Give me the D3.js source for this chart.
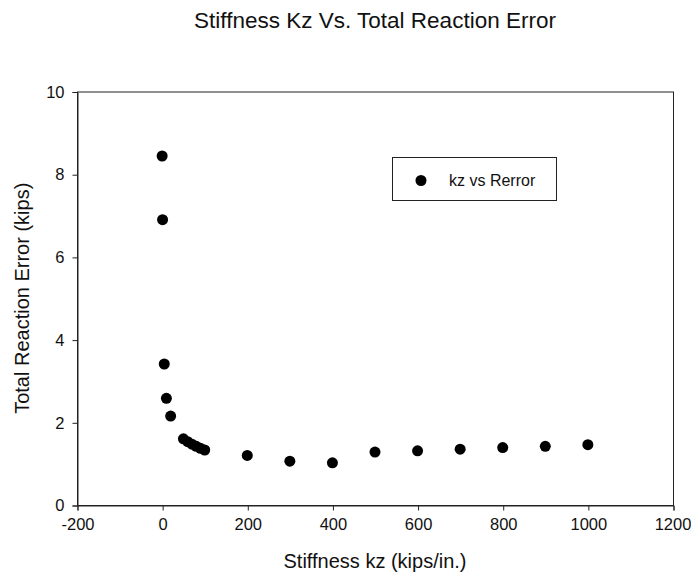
<!DOCTYPE html>
<html>
<head>
<meta charset="utf-8">
<script src="https://cdn.jsdelivr.net/npm/d3@7"></script>
<style>
  html, body { margin: 0; padding: 0; background: #fff; }
  svg { display: block; font-family: "Liberation Sans", Arial, sans-serif; }
</style>
</head>
<body>
<svg id="chart" width="691" height="580"></svg>
<script>
const kz = [0, 1, 5, 10, 20, 50, 60, 70, 80, 90, 100, 200, 300, 400, 500, 600, 700, 800, 900, 1000];
const rerror = [8.44, 6.90, 3.41, 2.58, 2.15, 1.60, 1.53, 1.47, 1.42, 1.37, 1.33, 1.20, 1.06, 1.02, 1.28, 1.31, 1.35, 1.39, 1.42, 1.46];
const xTicks = [-200, 0, 200, 400, 600, 800, 1000, 1200];
const yTicks = [0, 2, 4, 6, 8, 10];
const titleText = "Stiffness Kz Vs. Total Reaction Error";
const xTitle = "Stiffness kz (kips/in.)";
const yTitle = "Total Reaction Error (kips)";
const legendLabel = "kz vs Rerror";

const W = 691, H = 580;
const m = {left: 77, top: 91.5, right: 18, bottom: 75};
const svg = d3.select("#chart");

const x = d3.scaleLinear().domain([-200, 1200]).range([m.left, W - m.right]);
const y = d3.scaleLinear().domain([0, 10]).range([H - m.bottom, m.top]);
const fmt = d => String(d);

// frame
svg.append("rect")
  .attr("x", x(-200) + 0.5).attr("y", y(10) + 0.5)
  .attr("width", x(1200) - x(-200)).attr("height", y(0) - y(10))
  .attr("fill", "none").attr("stroke", "#222").attr("stroke-width", 1);

const xAxis = svg.append("g")
  .attr("transform", `translate(0.5,${y(0) + 0.5})`)
  .call(d3.axisBottom(x).tickValues(xTicks).tickSize(5).tickPadding(8).tickFormat(fmt));
const yAxis = svg.append("g")
  .attr("transform", `translate(${x(-200) + 0.5},0.5)`)
  .call(d3.axisLeft(y).tickValues(yTicks).tickSize(5).tickPadding(8).tickFormat(fmt));

[xAxis, yAxis].forEach(g => {
  g.select(".domain").attr("stroke", "#222");
  g.selectAll(".tick line").attr("stroke", "#222");
  g.selectAll(".tick text").attr("font-size", "16.5px").attr("fill", "#111")
    .attr("font-family", "'Liberation Sans', Arial, sans-serif");
});
xAxis.selectAll(".tick text").filter(d => d === 1200).attr("dx", "-1px");

// points
svg.append("g").selectAll("circle")
  .data(kz.map((k, i) => [k, rerror[i]]))
  .join("circle")
  .attr("cx", d => x(d[0])).attr("cy", d => y(d[1]))
  .attr("r", 5.5).attr("fill", "#000");

// title
svg.append("text")
  .attr("x", (x(-200) + x(1200)) / 2).attr("y", 28)
  .attr("text-anchor", "middle").attr("font-size", "22.5px").attr("fill", "#111")
  .text(titleText);

svg.append("text")
  .attr("x", (x(-200) + x(1200)) / 2).attr("y", 568)
  .attr("text-anchor", "middle").attr("font-size", "20px").attr("fill", "#111")
  .text(xTitle);

svg.append("text")
  .attr("transform", `translate(29,${(y(0) + y(10)) / 2}) rotate(-90)`)
  .attr("text-anchor", "middle").attr("font-size", "20px").attr("fill", "#111")
  .text(yTitle);

// legend
const lg = svg.append("g");
lg.append("rect").attr("x", 392.5).attr("y", 157.5).attr("width", 164).attr("height", 43)
  .attr("fill", "#fff").attr("stroke", "#222").attr("stroke-width", 1);
lg.append("circle").attr("cx", 421).attr("cy", 180.5).attr("r", 5.5).attr("fill", "#000");
lg.append("text").attr("x", 449).attr("y", 186).attr("font-size", "16px").attr("fill", "#111")
  .text(legendLabel);
</script>
</body>
</html>
